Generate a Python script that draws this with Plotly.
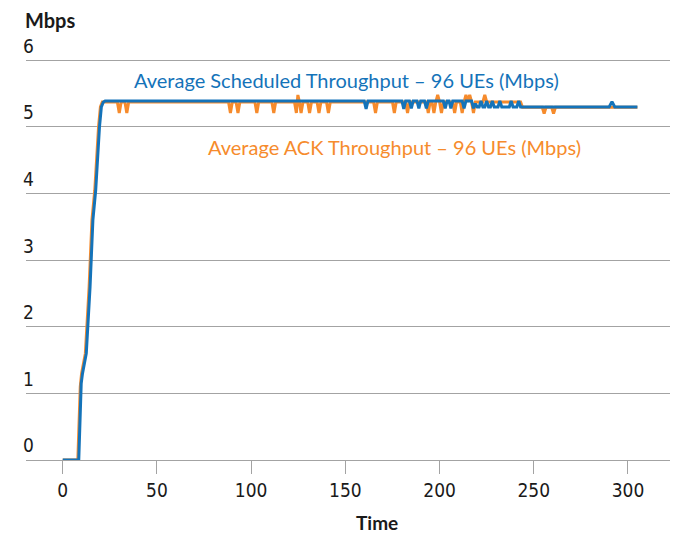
import plotly.graph_objects as go

# ---- data ----
sched_t = [0, 8.5, 9.8, 10.5, 12.5, 14.5, 16, 17.5, 19.5, 20.5, 21.5, 22.5,
           160, 161, 162, 180, 181, 182, 184, 185, 186, 188, 189, 190, 192, 193, 194,
           202, 203, 204, 205, 206, 207, 212, 213, 214, 217, 218, 219, 220,
           221, 222, 223, 224, 225, 226, 227, 228, 229, 231, 232, 233, 237, 238, 239, 241, 242, 243,
           290, 291.5, 293, 305]
sched_v = [0, 0, 1.15, 1.3, 1.6, 2.6, 3.6, 4.05, 5.0, 5.3, 5.37, 5.39,
           5.39, 5.27, 5.39, 5.39, 5.27, 5.39, 5.39, 5.28, 5.39, 5.39, 5.28, 5.39, 5.39, 5.28, 5.39,
           5.39, 5.28, 5.39, 5.39, 5.28, 5.39, 5.39, 5.28, 5.39, 5.39, 5.28, 5.35, 5.30,
           5.30, 5.39, 5.30, 5.30, 5.39, 5.30, 5.30, 5.39, 5.30, 5.30, 5.39, 5.30, 5.30, 5.39, 5.30, 5.30, 5.39, 5.30,
           5.30, 5.38, 5.30, 5.30]

ack_t = [0, 8, 9.3, 10, 12, 14, 15.5, 17, 19, 20, 21,
         29, 30, 31, 33, 34, 35, 88, 89, 90, 92, 93, 94, 102, 103, 104, 111, 112, 113,
         123, 124, 124.8, 125.6, 126.5, 127.5, 130, 131, 132, 135, 136, 137, 140, 141, 142,
         165, 166, 167, 175, 176, 177, 182, 183, 184, 193, 194, 195,
         196, 197, 198, 199, 200, 201, 202,
         207, 208, 209, 211, 212, 213, 214, 215, 216, 217, 218, 219, 223, 224, 225,
         243, 244, 254.5, 255.5, 256.5, 259.5, 260.5, 261.5, 305]
ack_v = [0, 0, 1.1, 1.3, 1.6, 2.6, 3.6, 4.05, 5.0, 5.3, 5.375,
         5.375, 5.21, 5.375, 5.375, 5.21, 5.375, 5.375, 5.21, 5.375, 5.375, 5.21, 5.375,
         5.375, 5.21, 5.375, 5.375, 5.21, 5.375,
         5.375, 5.21, 5.48, 5.375, 5.21, 5.375, 5.375, 5.21, 5.375, 5.375, 5.21, 5.375, 5.375, 5.21, 5.375,
         5.375, 5.21, 5.375, 5.375, 5.21, 5.375, 5.375, 5.21, 5.375, 5.375, 5.21, 5.375,
         5.375, 5.21, 5.375, 5.48, 5.375, 5.21, 5.375,
         5.375, 5.21, 5.375, 5.375, 5.21, 5.375, 5.48, 5.375, 5.48, 5.375, 5.21, 5.375, 5.375, 5.48, 5.375,
         5.375, 5.295, 5.295, 5.20, 5.295, 5.295, 5.20, 5.295, 5.295]

x_ticks = [0, 50, 100, 150, 200, 250, 300]
y_ticks = [0, 1, 2, 3, 4, 5, 6]

BLUE = "#1473b9"
ORANGE = "#f68b2c"
GRID = "#a3a3a3"
TEXT = "#1a1a1a"
TICKFONT = "Liberation Sans Narrow, DejaVu Sans Condensed, sans-serif"

fig = go.Figure()
fig.add_trace(go.Scatter(x=ack_t, y=ack_v, mode="lines",
                         line=dict(color=ORANGE, width=3), name="ACK"))
fig.add_trace(go.Scatter(x=sched_t, y=sched_v, mode="lines",
                         line=dict(color=BLUE, width=3), name="Scheduled"))

# page body has an 8px margin, so the figure is sized to fit within the window
fig.update_layout(
    width=676, height=525,
    margin=dict(l=18, r=14, t=49, b=73, autoexpand=False),
    plot_bgcolor="white", paper_bgcolor="white",
    showlegend=False,
    font=dict(family=TICKFONT, size=19, color=TEXT),
    xaxis=dict(range=[-19.5, 322.3], tickvals=x_ticks, showgrid=False, zeroline=False,
               showline=True, linecolor=GRID, linewidth=1, automargin=False,
               ticks="outside", ticklen=13, tickcolor=GRID, tickwidth=1,
               tickfont=dict(family=TICKFONT, size=19, color=TEXT)),
    yaxis=dict(range=[0, 6.05], tickvals=y_ticks, showgrid=True, gridcolor=GRID, gridwidth=1,
               zeroline=False, showline=False, ticks="", automargin=False,
               ticklabelposition="inside top", ticklabeloverflow="allow",
               ticklabelstandoff=-6, ticklabelshift=-1,
               tickfont=dict(family=TICKFONT, size=19, color=TEXT)),
    annotations=[
        dict(text="<b>Mbps</b>", xref="paper", yref="paper", x=0.0, y=1.0, yshift=37, xshift=-3,
             xanchor="left", yanchor="middle", showarrow=False,
             font=dict(family="Lato, sans-serif", size=20, color=TEXT)),
        dict(text="<b>Time</b>", xref="paper", yref="paper", x=0.545, y=0.0, yshift=-62,
             xanchor="center", yanchor="middle", showarrow=False,
             font=dict(family="Lato, sans-serif", size=19, color=TEXT)),
        dict(text="Average Scheduled Throughput – 96 UEs (Mbps)", xref="x", yref="y",
             x=150.5, y=5.70, xanchor="center", yanchor="middle", showarrow=False,
             font=dict(family="Lato, sans-serif", size=20, color=BLUE)),
        dict(text="Average ACK Throughput – 96 UEs (Mbps)", xref="x", yref="y",
             x=176, y=4.695, xanchor="center", yanchor="middle", showarrow=False,
             font=dict(family="Lato, sans-serif", size=20, color=ORANGE)),
    ],
)

fig.write_html("out.html")
